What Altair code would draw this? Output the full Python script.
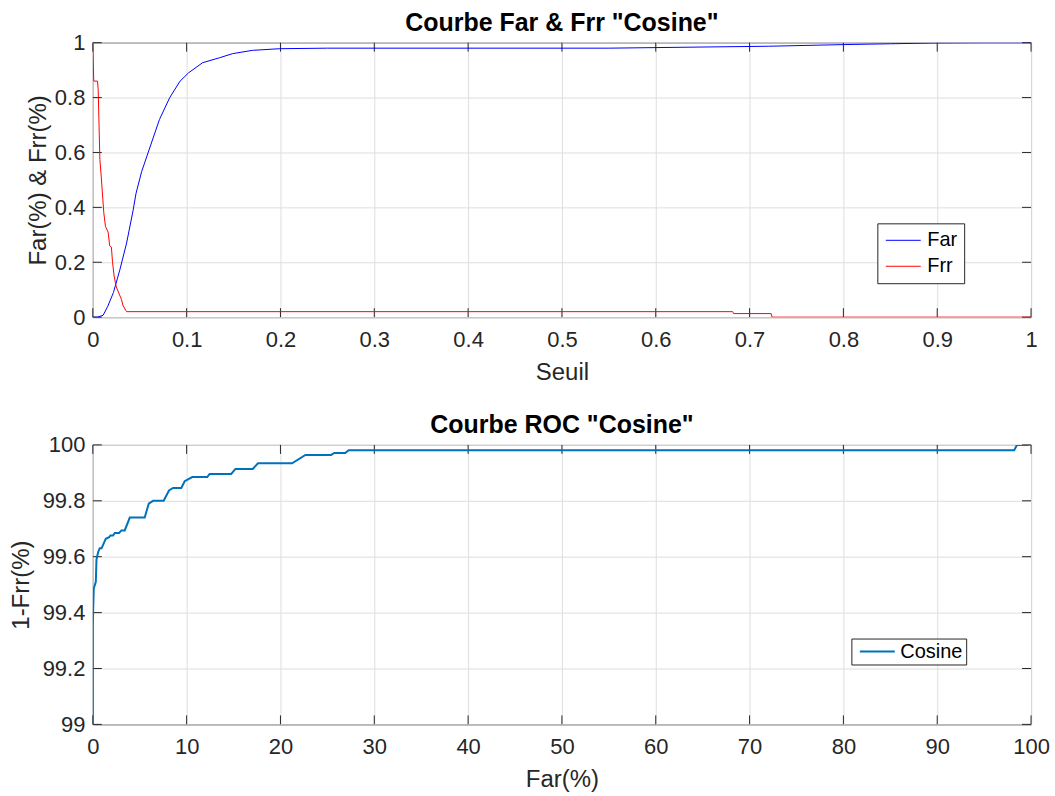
import altair as alt
import pandas as pd

# ---- data ----
far_seuil = [0, 0.005, 0.011, 0.016, 0.022, 0.029, 0.036, 0.043, 0.046, 0.052, 0.061, 0.071,
             0.082, 0.093, 0.102, 0.117, 0.135, 0.149, 0.17, 0.199, 0.25, 0.4, 0.55, 0.646,
             0.72, 0.8, 0.85, 0.9, 0.95, 1.0]
far_val = [0, 0, 0.007, 0.04, 0.09, 0.175, 0.27, 0.39, 0.45, 0.53, 0.62, 0.72,
           0.80, 0.86, 0.89, 0.927, 0.945, 0.96, 0.972, 0.978, 0.98, 0.98, 0.98, 0.984,
           0.987, 0.993, 0.996, 0.999, 1.0, 1.0]

frr_seuil = [0, 0.001, 0.005, 0.0057, 0.0075, 0.009, 0.0117, 0.0135, 0.0163, 0.018, 0.0198,
             0.021, 0.0227, 0.025, 0.029, 0.0305, 0.032, 0.035, 0.036, 0.682, 0.683, 0.723,
             0.724, 1.0]
frr_val = [1.0, 0.86, 0.86, 0.83, 0.575, 0.51, 0.38, 0.33, 0.31, 0.26, 0.255,
           0.2, 0.15, 0.11, 0.077, 0.065, 0.044, 0.025, 0.02, 0.02, 0.013, 0.013,
           0, 0]

roc_far = [0, 0, 0.03, 0.1, 0.32, 0.39, 0.57, 0.74, 0.93, 1.38, 1.74, 1.88, 2.16, 2.34, 2.8,
           3.05, 3.4, 3.94, 5.53, 5.96, 6.42, 7.55, 8.12, 8.55, 9.43, 9.79, 10.6, 12.2, 12.45,
           14.75, 15.2, 17.05, 17.6, 21.24, 22.66, 25.4, 25.74, 26.9, 27.27, 98.2, 98.5, 99.75]
roc_tpr = [99.0, 99.355, 99.40, 99.486, 99.51, 99.59, 99.617, 99.63, 99.63, 99.664, 99.67,
           99.676, 99.676, 99.685, 99.685, 99.694, 99.694, 99.74, 99.74, 99.79, 99.80, 99.80,
           99.837, 99.846, 99.846, 99.87, 99.885, 99.885, 99.896, 99.896, 99.914, 99.914,
           99.934, 99.934, 99.964, 99.964, 99.971, 99.971, 99.981, 99.981, 100.0, 100.0]

x_ticks_top = [0, 0.1, 0.2, 0.3, 0.4, 0.5, 0.6, 0.7, 0.8, 0.9, 1]
y_ticks_top = [0, 0.2, 0.4, 0.6, 0.8, 1]
x_ticks_bot = [0, 10, 20, 30, 40, 50, 60, 70, 80, 90, 100]
y_ticks_bot = [99, 99.2, 99.4, 99.6, 99.8, 100]

W = 940
H1 = 275
H2 = 280
TL = 9
AX = "#262626"
LINE_SYM = "M-2,0H2"

# ---- top chart ----
df_top = pd.DataFrame({
    "seuil": far_seuil + frr_seuil,
    "val": far_val + frr_val,
    "serie": ["Far"] * len(far_seuil) + ["Frr"] * len(frr_seuil),
    "i": list(range(len(far_seuil))) + list(range(len(frr_seuil))),
})

X1 = alt.X("seuil:Q", scale=alt.Scale(domain=[0, 1], nice=False, zero=False),
           axis=alt.Axis(values=x_ticks_top, format="~g", title="Seuil", labelFlush=False,
                         labelPadding=12, titlePadding=10))
Y1 = alt.Y("val:Q", scale=alt.Scale(domain=[0, 1], nice=False),
           axis=alt.Axis(values=y_ticks_top, format="~g", title="Far(%) & Frr(%)",
                         labelFlush=False, labelPadding=8, titlePadding=4))

lines_top = alt.Chart(df_top).mark_line(strokeWidth=1, clip=True).encode(
    x=X1, y=Y1,
    color=alt.Color("serie:N",
                    scale=alt.Scale(domain=["Far", "Frr"], range=["#0000FF", "#FF0000"]),
                    legend=alt.Legend(title=None, orient="none", legendX=786, legendY=181,
                                      symbolType=LINE_SYM, symbolSize=306, symbolStrokeWidth=1,
                                      labelFontSize=20, labelColor="black", padding=7,
                                      rowPadding=6, symbolOffset=9, labelOffset=14,
                                      strokeColor=AX, fillColor="white")),
    order="i:Q",
)

xt1 = pd.DataFrame({"seuil": x_ticks_top})
yt1 = pd.DataFrame({"val": y_ticks_top})
tk_b1 = alt.Chart(xt1).mark_rule(color=AX, strokeWidth=1).encode(
    x=X1, y=alt.value(H1), y2=alt.value(H1 - TL))
tk_t1 = alt.Chart(xt1).mark_rule(color=AX, strokeWidth=1).encode(
    x=X1, y=alt.value(0), y2=alt.value(TL))
tk_l1 = alt.Chart(yt1).mark_rule(color=AX, strokeWidth=1).encode(
    y=Y1, x=alt.value(0), x2=alt.value(TL))
tk_r1 = alt.Chart(yt1).mark_rule(color=AX, strokeWidth=1).encode(
    y=Y1, x=alt.value(W), x2=alt.value(W - TL))

top = alt.layer(tk_b1, tk_t1, tk_l1, tk_r1, lines_top).properties(
    width=W, height=H1,
    title=alt.TitleParams('Courbe Far & Frr "Cosine"', fontSize=25, fontWeight="bold",
                          color="black", offset=-4),
)

# ---- bottom chart ----
df_bot = pd.DataFrame({
    "far": roc_far,
    "tpr": roc_tpr,
    "serie": ["Cosine"] * len(roc_far),
    "i": list(range(len(roc_far))),
})

X2 = alt.X("far:Q", scale=alt.Scale(domain=[0, 100], nice=False, zero=False),
           axis=alt.Axis(values=x_ticks_bot, format="d", title="Far(%)", labelFlush=False,
                         labelPadding=12, titlePadding=10))
Y2 = alt.Y("tpr:Q", scale=alt.Scale(domain=[99, 100], nice=False, zero=False),
           axis=alt.Axis(values=y_ticks_bot, format="~g", title="1-Frr(%)",
                         labelFlush=False, labelPadding=8, titlePadding=9))

line_bot = alt.Chart(df_bot).mark_line(strokeWidth=2, clip=True).encode(
    x=X2, y=Y2,
    color=alt.Color("serie:N", scale=alt.Scale(domain=["Cosine"], range=["#0072BD"]),
                    legend=alt.Legend(title=None, orient="none", legendX=760, legendY=194,
                                      symbolType=LINE_SYM, symbolSize=306, symbolStrokeWidth=2,
                                      labelFontSize=20, labelColor="black", padding=3,
                                      symbolOffset=13, labelOffset=13,
                                      strokeColor=AX, fillColor="white")),
    order="i:Q",
)

xt2 = pd.DataFrame({"far": x_ticks_bot})
yt2 = pd.DataFrame({"tpr": y_ticks_bot})
tk_b2 = alt.Chart(xt2).mark_rule(color=AX, strokeWidth=1).encode(
    x=X2, y=alt.value(H2), y2=alt.value(H2 - TL))
tk_t2 = alt.Chart(xt2).mark_rule(color=AX, strokeWidth=1).encode(
    x=X2, y=alt.value(0), y2=alt.value(TL))
tk_l2 = alt.Chart(yt2).mark_rule(color=AX, strokeWidth=1).encode(
    y=Y2, x=alt.value(0), x2=alt.value(TL))
tk_r2 = alt.Chart(yt2).mark_rule(color=AX, strokeWidth=1).encode(
    y=Y2, x=alt.value(W), x2=alt.value(W - TL))

bottom = alt.layer(tk_b2, tk_t2, tk_l2, tk_r2, line_bot).properties(
    width=W, height=H2,
    title=alt.TitleParams('Courbe ROC "Cosine"', fontSize=25, fontWeight="bold",
                          color="black", offset=-4),
)

chart = alt.vconcat(top, bottom, spacing=128, bounds="flush").resolve_scale(
    color="independent"
).properties(
    padding={"left": 8, "top": 9, "right": 5, "bottom": 5},
    background="white",
).configure(
    font="Liberation Sans",
).configure_view(
    stroke=AX, strokeWidth=1,
).configure_axis(
    labelFont="Liberation Sans", labelFontSize=22, labelColor=AX,
    titleFont="Liberation Sans", titleFontSize=24, titleFontWeight="normal", titleColor=AX,
    gridColor="#dedede", gridOpacity=1, gridWidth=1,
    domain=False, ticks=False,
).configure_title(
    font="Liberation Sans", anchor="middle",
).configure_legend(
    labelFont="Liberation Sans",
)

chart.save("out.html", embed_options={"renderer": "svg", "actions": False})
